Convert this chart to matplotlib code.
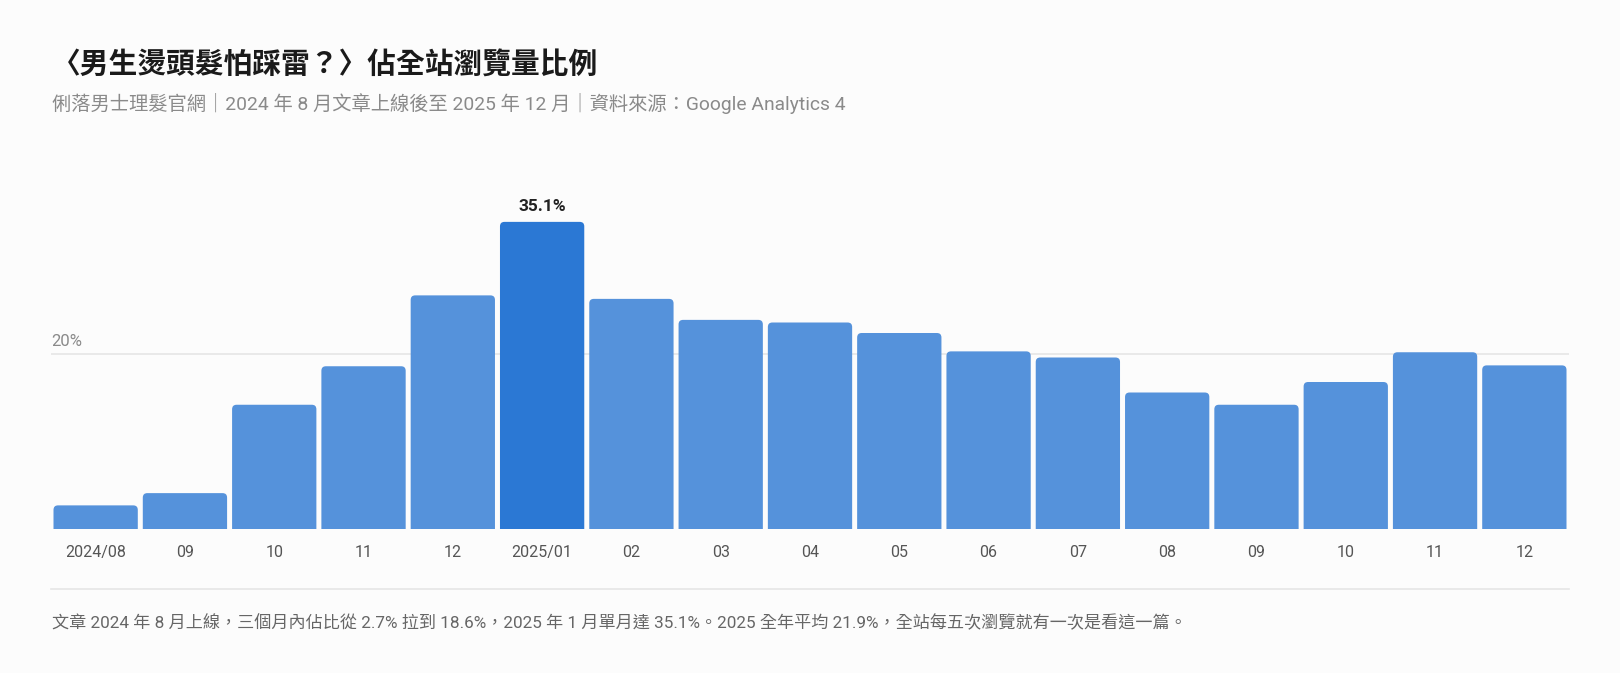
import matplotlib
matplotlib.use("Agg")
import matplotlib.pyplot as plt
from matplotlib.patches import FancyBboxPatch

# Latin glyphs from Roboto, CJK falls through to Noto
plt.rcParams['font.family'] = ['Roboto', 'Noto Sans CJK TC', 'DejaVu Sans']

# monthly share of site pageviews (%)
months = ['2024/08', '09', '10', '11', '12', '2025/01', '02', '03', '04',
          '05', '06', '07', '08', '09', '10', '11', '12']
share = [2.7, 4.1, 14.2, 18.6, 26.7, 35.1, 26.3, 23.9, 23.6,
         22.4, 20.3, 19.6, 15.6, 14.2, 16.8, 20.2, 18.7]
peak_label = '35.1%'

title = '〈男生燙頭髮怕踩雷？〉佔全站瀏覽量比例'
subtitle = '俐落男士理髮官網｜2024 年 8 月文章上線後至 2025 年 12 月｜資料來源：Google Analytics 4'
note = ('文章 2024 年 8 月上線，三個月內佔比從 2.7% 拉到 18.6%，2025 年 1 月單月達 35.1%。'
        '2025 全年平均 21.9%，全站每五次瀏覽就有一次是看這一篇。')

bg = '#fcfcfc'
base_col = '#5592db'
peak_col = '#2b78d4'

fig = plt.figure(figsize=(16.2, 6.73), dpi=100, facecolor=bg)
ax = fig.add_axes([51 / 1620, 1 - 529 / 673, 1518 / 1620, 350 / 673])
ax.set_facecolor(bg)

x = list(range(len(months)))
peak = share.index(max(share))
colors = [peak_col if i == peak else base_col for i in x]
bars = ax.bar(x, share, width=0.944, color=colors)

ax.set_xlim(-0.5, len(months) - 0.5)
ax.set_ylim(0, 40)

# swap plain bars for ones with rounded tops
px_x = 1518 / 17
px_y = 350 / 40
for b, c in zip(bars, colors):
    b.set_visible(False)
    r = 4.5 / px_x
    p = FancyBboxPatch((b.get_x(), -2), b.get_width(), b.get_height() + 2,
                       boxstyle=f'round,pad=0,rounding_size={r}',
                       mutation_aspect=px_x / px_y,
                       facecolor=c, edgecolor='none', zorder=2)
    ax.add_patch(p)

# the single 20% reference line
ax.axhline(20, color='#e6e6e6', lw=1.2, zorder=1)
ax.text(-0.5, 20.6, '20%', fontsize=12, color='#8a8a8a', ha='left', va='bottom')

ax.text(peak, share[peak] + 0.9, peak_label, ha='center', va='bottom',
        fontsize=12.5, fontweight='bold', color='#222222')

ax.set_xticks(x)
ax.set_xticklabels(months, fontsize=11.5, color='#555555')
ax.tick_params(axis='x', length=0, pad=11.5)
ax.set_yticks([])
for s in ax.spines.values():
    s.set_visible(False)

fig.text(52 / 1620, 1 - 65 / 673, title, fontsize=20.7, fontweight='bold',
         color='#1a1a1a', ha='left', va='center')
fig.text(52 / 1620, 1 - 103 / 673, subtitle, fontsize=13.9, color='#8a8a8a',
         ha='left', va='center')

# divider above the note
fig.add_artist(plt.Line2D([51 / 1620, 1569 / 1620], [1 - 589 / 673, 1 - 589 / 673],
                          color='#e6e6e6', lw=1.2))
fig.text(52 / 1620, 1 - 623 / 673, note, fontsize=12.3, color='#666666',
         ha='left', va='center')

fig.savefig('out.png', dpi=100, facecolor=bg)
